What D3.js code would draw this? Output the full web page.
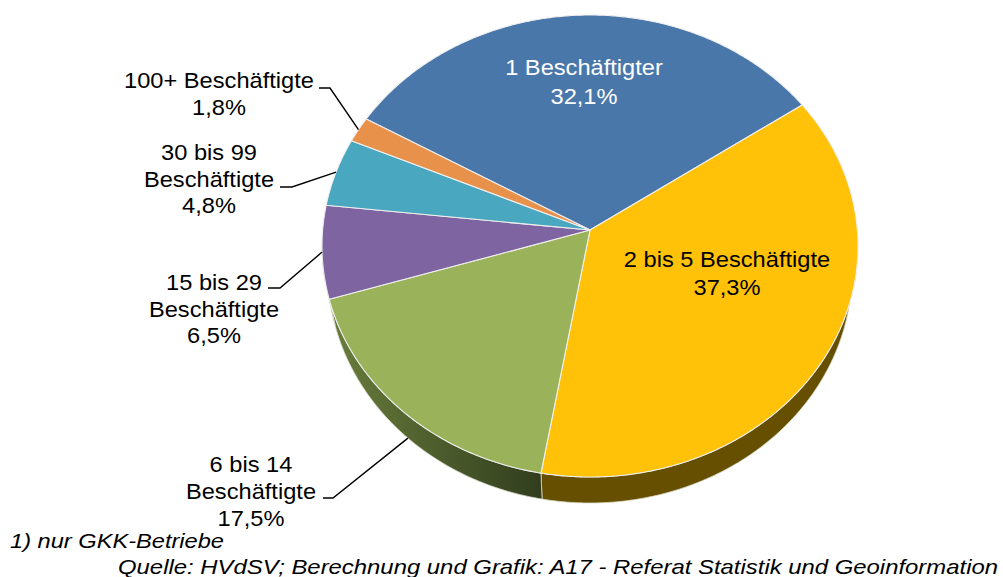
<!DOCTYPE html>
<html><head><meta charset="utf-8">
<script src="https://cdn.jsdelivr.net/npm/d3@7"></script>
<style>body{margin:0;background:#fff}svg{display:block}text{font-family:"Liberation Sans",Arial,sans-serif}</style>
</head><body>
<svg id="c" width="1003" height="577"></svg>
<script>
const categories = ["1 Beschäftigter","2 bis 5 Beschäftigte","6 bis 14 Beschäftigte","15 bis 29 Beschäftigte","30 bis 99 Beschäftigte","100+ Beschäftigte"];
const values = [32.1, 37.3, 17.5, 6.5, 4.8, 1.8];
const valueLabels = ["32,1%","37,3%","17,5%","6,5%","4,8%","1,8%"];
const labelLines = [["1 Beschäftigter","32,1%"],["2 bis 5 Beschäftigte","37,3%"],["6 bis 14","Beschäftigte","17,5%"],["15 bis 29","Beschäftigte","6,5%"],["30 bis 99","Beschäftigte","4,8%"],["100+ Beschäftigte","1,8%"]];
const topColors = ["#4a77aa","#ffc208","#9ab25a","#7e64a0","#4aa7c0","#e8914a"];
const sideColors = ["#2c4766","#665000","#3f4d25","#4b3c60","#2c6473","#8b5729"];
const footnote = "1) nur GKK-Betriebe";
const source = "Quelle: HVdSV; Berechnung und Grafik: A17 - Referat Statistik und Geoinformation";

const svg = d3.select("#c");
const cx = 590, cy = 246, rx = 268, ry = 231, depth = 26, rxB = 262, tilt = -0.069;
const start = -60 * Math.PI / 180;
const deg = Math.PI / 180;

function proj(a, bottom) {
  const u0 = Math.sin(a), v0 = -Math.cos(a);
  const d = 1 + tilt * v0;
  const u = u0 * Math.sqrt(1 - tilt * tilt) / d, v = (v0 + tilt) / d;
  return bottom ? [cx + rxB * u, cy + depth + ry * v] : [cx + rx * u, cy + ry * v];
}
const apex = [cx, cy + ry * tilt];

const pie = d3.pie().sort(null).value(d => d).startAngle(start).endAngle(start + 2 * Math.PI);
const arcs = pie(values);

function samples(a0, a1) {
  const n = Math.max(2, Math.ceil((a1 - a0) / (0.5 * deg)));
  return d3.range(n + 1).map(i => a0 + (a1 - a0) * i / n);
}

const defs = svg.append("defs");
const gg = defs.append("linearGradient").attr("id","gside").attr("gradientUnits","userSpaceOnUse")
  .attr("x1",330).attr("y1",0).attr("x2",545).attr("y2",0);
gg.append("stop").attr("offset","0").attr("stop-color","#6a7d3c");
gg.append("stop").attr("offset","1").attr("stop-color","#303c1d");

const line = d3.line();
// sides
const sideG = svg.append("g");
arcs.forEach((d, i) => {
  const a0 = Math.max(d.startAngle, 90 * deg), a1 = Math.min(d.endAngle, 270 * deg);
  if (a1 <= a0) return;
  const s = samples(a0, a1);
  const pts = s.map(a => proj(a, false)).concat(s.slice().reverse().map(a => proj(a, true)));
  sideG.append("path").attr("d", line(pts) + "Z")
    .attr("fill", i === 2 ? "url(#gside)" : sideColors[i])
    .attr("stroke", "#d8d8c8").attr("stroke-width", 0.8);
});
// tops
const topG = svg.append("g");
arcs.forEach((d, i) => {
  const pts = [apex].concat(samples(d.startAngle, d.endAngle).map(a => proj(a, false)));
  topG.append("path").attr("d", line(pts) + "Z")
    .attr("fill", topColors[i]).attr("stroke", "#eeeeee").attr("stroke-width", 1.1)
    .attr("stroke-linejoin","round");
});

// labels
const labelPos = [
  {x:584, y:75, dy:29, color:"#fff"},
  {x:727, y:267, dy:28, color:"#000"},
  {x:251, y:472, dy:27, color:"#000", elbow:[323,333,498], end:"bottom"},
  {x:214, y:290, dy:26.5, color:"#000", elbow:[268,280,288]},
  {x:209, y:160, dy:26.5, color:"#000", elbow:[280,292,187]},
  {x:219, y:88, dy:26.5, color:"#000", elbow:[319,330,88]}
];
const labG = svg.append("g");
arcs.forEach((d, i) => {
  const p = labelPos[i];
  if (p.elbow) {
    const mid = (d.startAngle + d.endAngle) / 2;
    const e = proj(mid, p.end === "bottom");
    labG.append("path").attr("d", line([[p.elbow[0], p.elbow[2]], [p.elbow[1], p.elbow[2]], e]))
      .attr("fill","none").attr("stroke","#000").attr("stroke-width",1.4);
  }
  labelLines[i].forEach((t, k) => {
    labG.append("text").attr("transform", `translate(${p.x},${p.y + k * p.dy}) scale(1.075,1)`)
      .attr("text-anchor","middle").attr("font-size", 22).attr("fill", p.color).text(t);
  });
});

svg.append("text").attr("x", 10).attr("y", 548).attr("font-size", 21).attr("font-style","italic")
  .attr("textLength", 214).attr("lengthAdjust","spacingAndGlyphs").text(footnote);
svg.append("text").attr("x", 118).attr("y", 574).attr("font-size", 21).attr("font-style","italic")
  .attr("textLength", 880).attr("lengthAdjust","spacingAndGlyphs").text(source);
</script>
</body></html>
